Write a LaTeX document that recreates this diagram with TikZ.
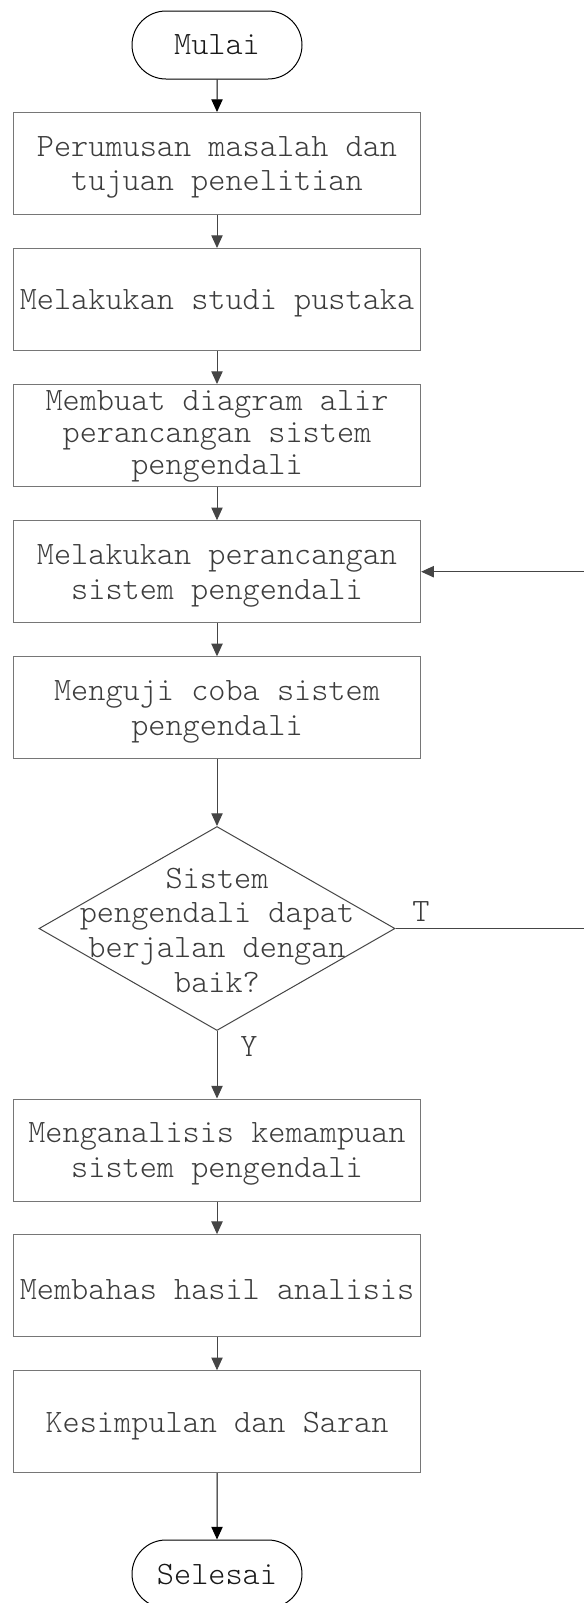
\documentclass[tikz,border=0pt]{standalone}
\usepackage{fontspec}
\newfontfamily\flowmono{Latin Modern Mono Light}
\usetikzlibrary{arrows.meta,shapes.geometric,shapes.misc}
\definecolor{boxline}{HTML}{767676}
\definecolor{conline}{HTML}{454545}
\definecolor{boxtext}{HTML}{3c3c3c}
\begin{document}
\begin{tikzpicture}[x=0.75pt,y=-0.75pt,
  font=\flowmono\fontsize{24.5}{26}\selectfont,
  stepbox/.style={draw=boxline,line width=0.75pt,rectangle,minimum width=305.5pt,minimum height=76.5pt,inner sep=0pt},
  steptext/.style={inner sep=0pt,align=center,text=boxtext,yshift=-3pt},
  term/.style={draw=black,line width=0.75pt,rounded rectangle,minimum width=127.5pt,minimum height=51pt,inner sep=0pt,text=black!90},
  decision/.style={draw=conline,line width=0.75pt,diamond,minimum width=267pt,minimum height=153pt,inner sep=0pt},
  conn/.style={draw=conline,line width=0.75pt,-{Triangle[length=9.5pt,width=8.5pt]}},
  connk/.style={draw=black,line width=0.75pt,-{Triangle[length=9.5pt,width=8.5pt]}},
  plain/.style={draw=conline,line width=0.75pt},
  lbl/.style={text=boxtext,inner sep=0pt}
]
\useasboundingbox[fill=white] (0,0) rectangle (583,1603);
\node[term] (start) at (217,45) {Mulai};
\node[stepbox] (b1) at (217,163.5) {};
\node[steptext] (t1) at (b1.center) {Perumusan masalah dan\\tujuan penelitian};
\node[stepbox] (b2) at (217,299.5) {};
\node[steptext] (t2) at (b2.center) {Melakukan studi pustaka};
\node[stepbox] (b3) at (217,435.5) {};
\node[steptext,yshift=2.5pt,font=\flowmono\fontsize{24.5}{24}\selectfont] (t3) at (b3.center) {Membuat diagram alir\\perancangan sistem\\pengendali};
\node[stepbox] (b4) at (217,571.7) {};
\node[steptext] (t4) at (b4.center) {Melakukan perancangan\\sistem pengendali};
\node[stepbox] (b5) at (217,707.8) {};
\node[steptext] (t5) at (b5.center) {Menguji coba sistem\\pengendali};
\node[decision] (d) at (217,928.5) {};
\node[lbl,align=center] (dt) at (217,930) {Sistem\\pengendali dapat\\berjalan dengan\\baik?};
\node[stepbox] (b6) at (217,1150) {};
\node[steptext] (t6) at (b6.center) {Menganalisis kemampuan\\sistem pengendali};
\node[stepbox] (b7) at (217,1285.6) {};
\node[steptext] (t7) at (b7.center) {Membahas hasil analisis};
\node[stepbox] (b8) at (217,1421.7) {};
\node[steptext] (t8) at (b8.center) {Kesimpulan dan Saran};
\node[term] (stop) at (217,1574) {Selesai};
\node[lbl] (tl) at (421,911.7) {T};
\node[lbl] (yl) at (249,1047) {Y};
\coordinate (r1) at (587,928.5);
\coordinate (r2) at (587,571.7);
\draw[connk] (start) -- (b1);
\draw[conn] (b1) -- (b2);
\draw[conn] (b2) -- (b3);
\draw[conn] (b3) -- (b4);
\draw[conn] (b4) -- (b5);
\draw[conn] (b5) -- (d.north);
\draw[conn] (d.south) -- (b6);
\draw[conn] (b6) -- (b7);
\draw[conn] (b7) -- (b8);
\draw[connk] (b8) -- (stop);
\draw[plain] (d.east) -- (r1) -- (r2);
\draw[conn] (r2) -- (b4.east);
\end{tikzpicture}
\end{document}
